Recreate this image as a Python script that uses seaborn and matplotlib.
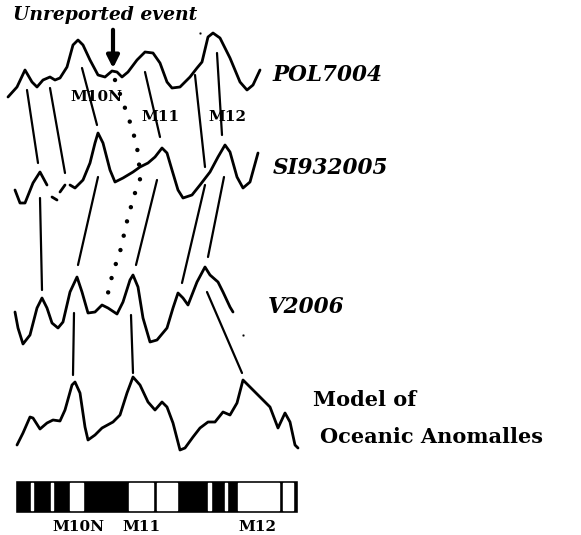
import numpy as np
import pandas as pd
import matplotlib
matplotlib.use("Agg")
import matplotlib.pyplot as plt
import seaborn as sns

sns.set_style("white")
plt.rcParams["font.family"] = ["DejaVu Serif"]
plt.rcParams["text.color"] = "black"

# profile traces (x to the right, y downwards)
pol_x = [8, 17, 25, 32, 37, 43, 50, 55, 60, 67, 73, 78, 83, 90, 98, 105, 112, 117, 122,
         128, 137, 145, 153, 160, 167, 172, 180, 190, 197, 202, 208, 213, 220, 230, 240,
         247, 253, 260]
pol_y = [97, 87, 70, 82, 87, 80, 77, 80, 78, 67, 45, 40, 45, 60, 75, 77, 71, 72, 77,
         72, 60, 52, 53, 63, 82, 88, 87, 77, 68, 62, 37, 33, 38, 58, 82,
         90, 85, 70]

si_x = [15, 20, 25, 33, 40, 47, 52, 57, 60, 65,
        70, 75, 83, 90, 95, 98, 103, 110, 115, 123, 133, 140, 148, 155, 162, 167, 172,
        178, 183, 192, 200, 210, 218, 225, 230, 237, 243, 250, 258]
si_y = [190, 203, 203, 183, 172, 185, 197, 200, 192, 185,
        185, 188, 180, 163, 143, 133, 143, 170, 182, 178, 172, 167, 163, 157, 148, 153, 170,
        190, 198, 195, 185, 172, 157, 145, 152, 177, 188, 182, 153]
# the SI932005 trace is broken into pieces on the scan
si_seg = [1] * 6 + [2] * 2 + [3] * 2 + [4] * 29

v_x = [15, 18, 23, 30, 37, 42, 47, 52, 58, 63, 70, 77, 82, 88, 95, 102, 108, 117, 123,
       130, 133, 138, 143, 150, 157, 167, 173, 178, 183, 188, 197, 205, 210, 218, 223,
       230, 233]
v_y = [312, 328, 344, 335, 308, 298, 308, 323, 328, 322, 292, 277, 292, 313, 312, 305,
       308, 314, 302, 280, 275, 287, 318, 342, 340, 328, 308, 293, 298, 305, 282, 267,
       275, 282, 292, 307, 312]

model_x = [17, 23, 30, 33, 40, 47, 53, 60, 65, 72, 75, 80, 85, 88, 95, 102, 113, 120,
           127, 133, 140, 148, 155, 162, 167, 173, 180, 185, 193, 200, 208, 215, 223, 230,
           237, 243, 253, 263, 270, 278, 285, 290, 295, 298]
model_y = [445, 433, 417, 418, 429, 423, 420, 421, 410, 385, 382, 393, 427, 440, 435,
           428, 422, 415, 393, 377, 385, 402, 410, 402, 407, 423, 450, 448, 437, 428,
           422, 422, 412, 415, 403, 380, 390, 400, 407, 428, 413, 422, 445, 448]

# tie lines between profiles: (x0, y0) -> (x1, y1)
tie_x0 = [27, 50, 82, 145, 195, 217, 40, 98, 157, 205, 224, 74, 131, 207]
tie_y0 = [90, 88, 68, 72, 75, 53, 198, 177, 180, 185, 177, 313, 315, 292]
tie_x1 = [38, 65, 97, 160, 205, 222, 42, 78, 136, 182, 208, 73, 133, 242]
tie_y1 = [163, 173, 125, 137, 167, 135, 290, 265, 265, 283, 257, 375, 373, 373]

# dotted trace of the unreported event
dot_x = [115, 125, 132, 137, 139, 140, 135, 128, 120, 113, 108]
dot_y = [80, 108, 128, 147, 163, 180, 193, 217, 252, 272, 293]

# polarity bar: white stripes (start, end) on a black bar
bar_x0, bar_x1 = 15, 298
stripe_x0 = [30.7, 51, 70, 129, 157, 208, 225, 238, 283]
stripe_x1 = [33.3, 53.3, 83, 153, 177, 211, 227, 279, 293]

profile_names = ["POL7004", "SI932005", "V2006"]
profile_label_x = [273, 273, 268]
profile_label_y = [75, 168, 307]

chron_names = ["M10N", "M11", "M12"]
chron_top_x = [96, 160, 227]
chron_top_y = [97, 117, 117]
chron_bar_x = [78, 141, 257]

fig = plt.figure(figsize=(5.81, 5.35), dpi=100)
ax = fig.add_axes([0, 0, 1, 1])

lw_prof = 2.0
sns.lineplot(x=pol_x, y=pol_y, sort=False, estimator=None, color="black", lw=lw_prof, ax=ax)
si_df = pd.DataFrame({"x": si_x, "y": si_y, "seg": si_seg})
sns.lineplot(data=si_df, x="x", y="y", units="seg", sort=False, estimator=None,
             color="black", lw=lw_prof, ax=ax)
sns.lineplot(x=v_x, y=v_y, sort=False, estimator=None, color="black", lw=lw_prof, ax=ax)
sns.lineplot(x=model_x, y=model_y, sort=False, estimator=None, color="black", lw=lw_prof, ax=ax)

ties = pd.DataFrame({
    "x": tie_x0 + tie_x1,
    "y": tie_y0 + tie_y1,
    "tie": list(range(len(tie_x0))) * 2,
})
sns.lineplot(data=ties, x="x", y="y", units="tie", sort=False, estimator=None,
             color="black", lw=1.6, ax=ax)

sns.lineplot(x=dot_x, y=dot_y, sort=False, estimator=None, color="black", lw=3.2,
             ax=ax, linestyle=(0, (0.01, 3.3)), dash_capstyle="round")

# specks on the scan
sns.scatterplot(x=[200, 243], y=[33, 335], color="black", s=3, ax=ax)

# arrow for the unreported event
ax.annotate("", xy=(113, 71), xytext=(113, 27),
            arrowprops=dict(arrowstyle="-|>", color="black", lw=3, mutation_scale=18))
ax.text(13, 15, "Unreported event", fontsize=13.5, fontweight="bold", style="italic",
        va="center", ha="left")

for name, lx, ly in zip(profile_names, profile_label_x, profile_label_y):
    ax.text(lx, ly, name, fontsize=15.5, fontweight="bold", style="italic",
            va="center", ha="left")

ax.text(313, 400, "Model of", fontsize=15, fontweight="bold", va="center", ha="left")
ax.text(320, 437, "Oceanic Anomalles", fontsize=15, fontweight="bold", va="center", ha="left")

for name, cx, cy in zip(chron_names, chron_top_x, chron_top_y):
    ax.text(cx, cy, name, fontsize=11, fontweight="bold", va="center", ha="center")

# polarity bar
ax.broken_barh([(bar_x0, bar_x1 - bar_x0)], (480, 33), facecolors="black")
ax.broken_barh([(a, b - a) for a, b in zip(stripe_x0, stripe_x1)], (483, 27),
               facecolors="white")
for name, cx in zip(chron_names, chron_bar_x):
    ax.text(cx, 527, name, fontsize=11, fontweight="bold", va="center", ha="center")

ax.set_xlim(0, 581)
ax.set_ylim(535, 0)
ax.axis("off")

fig.savefig("out.png", dpi=100)
